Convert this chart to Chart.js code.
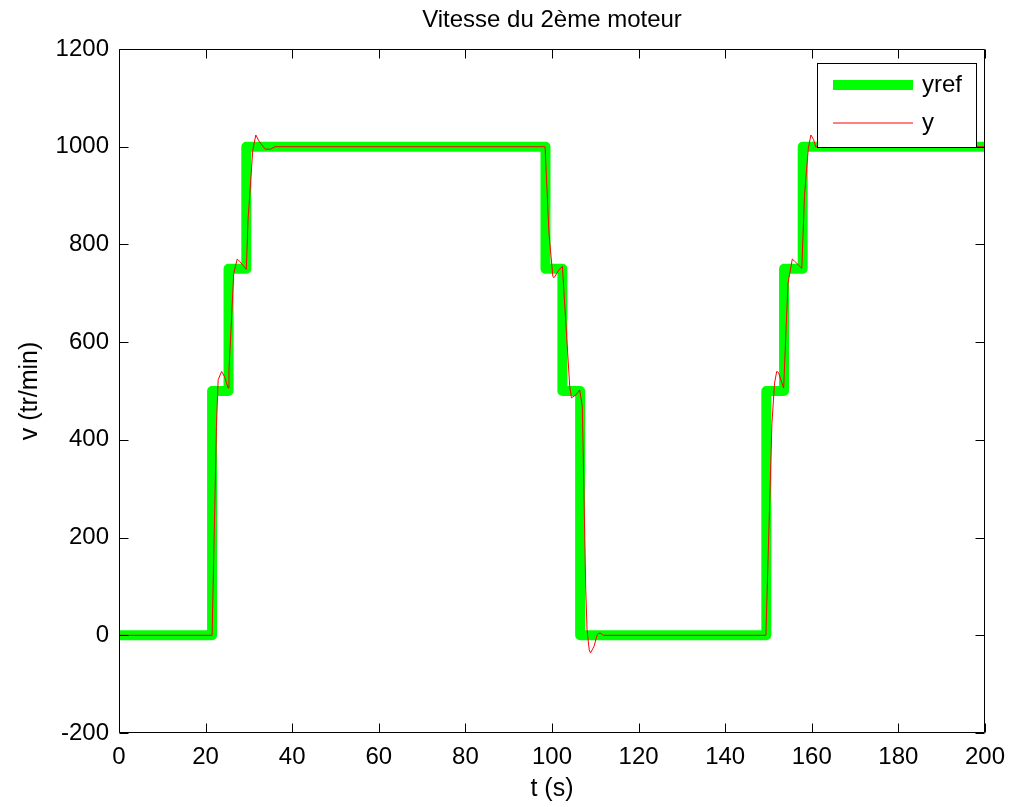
<!DOCTYPE html>
<html><head><meta charset="utf-8">
<script src="https://cdn.jsdelivr.net/npm/chart.js@4/dist/chart.umd.min.js"></script>
<style>html,body{margin:0;padding:0;background:#fff}canvas{display:block}</style>
</head><body>
<canvas id="c" width="1015" height="807"></canvas>
<script>
const chartTitle = "Vitesse du 2ème moteur";
const xLabel = "t (s)";
const yLabel = "v (tr/min)";
const seriesNames = ["yref", "y"];
const xTicks = [0, 20, 40, 60, 80, 100, 120, 140, 160, 180, 200];
const yTicks = [-200, 0, 200, 400, 600, 800, 1000, 1200];

// reference (step) signal
const refTimes  = [0, 21.5, 21.5, 25.3, 25.3, 29.4, 29.4, 98.5, 98.5, 102.4, 102.4, 106.5, 106.5, 149.5, 149.5, 153.6, 153.6, 157.9, 157.9, 200];
const refValues = [0, 0, 500, 500, 750, 750, 1000, 1000, 750, 750, 500, 500, 0, 0, 500, 500, 750, 750, 1000, 1000];

// measured speed
const measTimes  = [0, 21.5, 22.5, 22.9, 23.7, 24.4, 25.2, 25.4, 26.5, 27.3, 27.9, 29.4, 29.8, 30.9, 31.6, 32.3, 33.3, 33.8, 35, 36,
                    98.4, 99.3, 100.2, 100.5, 101.6, 102.4, 104.1, 104.5, 105.5, 106.4, 107, 107.8, 108.1, 108.6, 108.9, 109.7, 110.4, 110.7, 111.3, 111.8,
                    149.4, 150.8, 151.4, 151.9, 152.3, 153.5, 154.5, 155.5, 156, 157.7, 158.3, 159.2, 159.8, 160.4, 160.9, 200];
const measValues = [0, 0, 427, 523, 540, 529, 506, 543, 741, 770, 765, 749, 850, 993, 1024, 1012, 1000, 995, 995, 1000,
                    1000, 823, 734, 732, 748, 755, 509, 486, 492, 502, 468, 93, 11, -30, -36, -23, 0, 4, 4, 0,
                    0, 434, 516, 540, 538, 506, 720, 770, 766, 751, 898, 997, 1024, 1015, 1000, 1000];

const FONT = "'Liberation Sans', Arial, sans-serif";
const FS = 24;
const FL = 25;
const refColor = '#00ff00';
const measColor = '#ff0000';

const framePlugin = {
  id: 'frame',
  afterDatasetsDraw(chart) {
    const {ctx, chartArea: a, scales: {x, y}} = chart;
    ctx.save();
    ctx.strokeStyle = '#000';
    ctx.lineWidth = 1;
    ctx.beginPath();
    const L = Math.round(a.left) + 0.5, R = Math.round(a.right) - 0.5;
    const T = Math.round(a.top) + 0.5, B = Math.round(a.bottom) - 0.5;
    xTicks.forEach(v => {
      const px = Math.round(x.getPixelForValue(v)) + 0.5;
      ctx.moveTo(px, B); ctx.lineTo(px, B - 9);
      ctx.moveTo(px, T); ctx.lineTo(px, T + 9);
    });
    yTicks.forEach(v => {
      const py = Math.round(y.getPixelForValue(v)) + 0.5;
      ctx.moveTo(L, py); ctx.lineTo(L + 9, py);
      ctx.moveTo(R, py); ctx.lineTo(R - 9, py);
    });
    ctx.rect(L, T, R - L, B - T);
    ctx.stroke();
    ctx.restore();
  },
  afterDraw(chart) {
    const {ctx, chartArea: a} = chart;
    ctx.save();
    // title centred over the plot area
    ctx.fillStyle = '#000';
    ctx.font = FS + 'px ' + FONT;
    ctx.textAlign = 'center';
    ctx.textBaseline = 'middle';
    ctx.fillText(chartTitle, (a.left + a.right) / 2, 20);
    // legend
    const ds = chart.data.datasets;
    ctx.fillStyle = '#fff';
    ctx.strokeStyle = '#000';
    ctx.lineWidth = 1;
    ctx.fillRect(817, 63, 159, 84);
    ctx.strokeRect(817.5, 63.5, 159, 84);
    const rows = [85, 123];
    ds.forEach((d, i) => {
      ctx.strokeStyle = d.borderColor;
      ctx.lineWidth = d.borderWidth;
      ctx.lineCap = 'butt';
      ctx.beginPath();
      ctx.moveTo(833, rows[i]);
      ctx.lineTo(913, rows[i]);
      ctx.stroke();
      ctx.fillStyle = '#000';
      ctx.font = FS + 'px ' + FONT;
      ctx.textBaseline = 'middle';
      ctx.textAlign = 'left';
      ctx.fillText(d.label, 922, rows[i]);
    });
    ctx.restore();
  }
};

Chart.defaults.color = '#000';
Chart.defaults.font.family = FONT;
Chart.defaults.font.size = FS;

new Chart(document.getElementById('c'), {
  type: 'line',
  data: {
    datasets: [
      {
        label: seriesNames[0],
        data: refTimes.map((t, i) => ({x: t, y: refValues[i]})),
        borderColor: refColor, backgroundColor: refColor,
        borderWidth: 10, pointRadius: 0, tension: 0, order: 2,
        borderJoinStyle: 'round', borderCapStyle: 'butt', clip: 0
      },
      {
        label: seriesNames[1],
        data: measTimes.map((t, i) => ({x: t, y: measValues[i]})),
        borderColor: measColor, backgroundColor: measColor,
        borderWidth: 1, pointRadius: 0, tension: 0, order: 1, clip: 0
      }
    ]
  },
  options: {
    responsive: false,
    animation: false,
    events: [],
    layout: {padding: {left: 0, right: 28, top: 49, bottom: 0}},
    plugins: {
      legend: {display: false},
      tooltip: {enabled: false},
      title: {display: false}
    },
    scales: {
      x: {
        type: 'linear', min: 0, max: 200,
        afterBuildTicks: s => { s.ticks = xTicks.map(v => ({value: v})); },
        afterFit: s => { s.height = 74; },
        grid: {display: false, drawTicks: false},
        border: {display: false},
        ticks: {autoSkip: false, maxRotation: 0, padding: 10, font: {size: FS}, callback: v => String(v)},
        title: {display: true, text: xLabel, font: {size: FL}, padding: {top: 0, bottom: 3}}
      },
      y: {
        type: 'linear', min: -200, max: 1200,
        afterBuildTicks: s => { s.ticks = yTicks.map(v => ({value: v})); },
        afterFit: s => { s.width = 119; },
        grid: {display: false, drawTicks: false},
        border: {display: false},
        ticks: {padding: 10, font: {size: FS}, callback: v => String(v)},
        title: {display: true, text: yLabel, font: {size: FL}, padding: {top: 15, bottom: 0}}
      }
    }
  },
  plugins: [framePlugin]
});
</script>
</body></html>
